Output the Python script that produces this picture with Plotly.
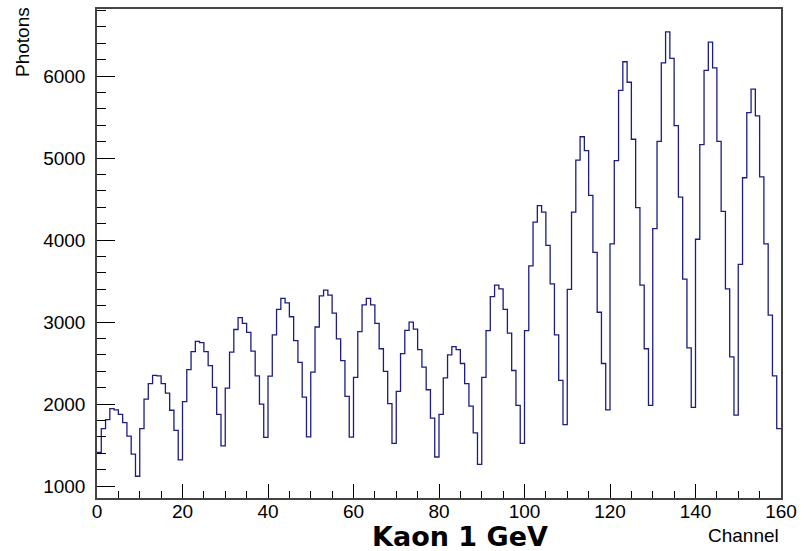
import numpy as np
import plotly.graph_objects as go

# Photons per channel (160 channels)
photons = [
    1410, 1700, 1810, 1945, 1930, 1875, 1775, 1610, 1390, 1120,
    1700, 2060, 2250, 2350, 2345, 2250, 2135, 1925, 1680, 1320,
    2030, 2420, 2640, 2765, 2750, 2640, 2470, 2205, 1875, 1490,
    2195, 2635, 2910, 3055, 2985, 2875, 2645, 2345, 2000, 1595,
    2340, 2845, 3155, 3290, 3235, 3065, 2775, 2510, 2085, 1600,
    2390, 2940, 3320, 3390, 3330, 3110, 2795, 2530, 2095, 1598,
    2325, 2885, 3210, 3290, 3210, 2985, 2675, 2400, 2005, 1520,
    2155, 2615, 2900, 3000, 2915, 2665, 2450, 2175, 1830, 1355,
    1875, 2320, 2600, 2700, 2665, 2495, 2250, 1975, 1650, 1265,
    2325, 2895, 3310, 3450, 3405, 3155, 2865, 2410, 1985, 1520,
    2895, 3685, 4220, 4420, 4340, 3935, 3465, 2845, 2290, 1750,
    3400, 4340, 4975, 5260, 5090, 4545, 3850, 3120, 2495, 1930,
    3955, 4970, 5825, 6175, 5925, 5230, 4395, 3450, 2675, 1985,
    4140, 5205, 6160, 6540, 6215, 5395, 4525, 3525, 2685, 1960,
    4010, 5165, 6070, 6415, 6100, 5205, 4350, 3405, 2575, 1865,
    3705, 4760, 5555, 5840, 5515, 4770, 3955, 3085, 2345, 1700,
]

n_channels = len(photons)
edges = np.arange(n_channels + 1)
# step outline: repeat the last bin so the final step reaches the right edge
step_y = photons + [photons[-1]]

title_text = "Kaon 1 GeV"
x_title = "Channel"
y_title = "Photons"

fig = go.Figure()

fig.add_trace(go.Scatter(
    x=edges,
    y=step_y,
    mode='lines',
    line=dict(color='#1c1c84', width=1.3, shape='hv'),
    showlegend=False,
    hoverinfo='skip'
))

font_family = "Liberation Sans, Arial, Helvetica, sans-serif"

fig.update_layout(
    width=811,
    height=551,
    margin=dict(l=97, r=30, t=7, b=53),
    paper_bgcolor='white',
    plot_bgcolor='white',
    font=dict(family=font_family, size=19, color='black'),
    showlegend=False
)

fig.update_xaxes(
    range=[0, 160],
    tick0=0, dtick=20,
    ticks='inside', ticklen=14, tickwidth=1, tickcolor='black',
    minor=dict(dtick=5, ticks='inside', ticklen=7, tickcolor='black', showgrid=False),
    showgrid=False, zeroline=False,
    showline=True, linecolor='#444', linewidth=1.5, mirror=True,
    ticklabelstandoff=-5
)

fig.update_yaxes(
    range=[855, 6818],
    tick0=0, dtick=1000,
    ticks='inside', ticklen=18, tickwidth=1, tickcolor='black',
    minor=dict(dtick=200, ticks='inside', ticklen=9, tickcolor='black', showgrid=False),
    showgrid=False, zeroline=False,
    showline=True, linecolor='#444', linewidth=1.5, mirror=True,
    ticklabelstandoff=6
)

# Axis titles placed ROOT-style (bottom right / top left)
fig.add_annotation(
    text=x_title, xref='paper', yref='paper', x=1, y=0,
    xanchor='right', yanchor='middle', yshift=-37, showarrow=False,
    font=dict(family=font_family, size=19, color='black')
)
fig.add_annotation(
    text=y_title, xref='paper', yref='paper', x=0, y=1,
    xanchor='center', yanchor='top', xshift=-75, yshift=4, textangle=-90, showarrow=False,
    font=dict(family=font_family, size=19, color='black')
)

# Bold title sitting under the x axis
fig.add_annotation(
    text="<b>" + title_text + "</b>", xref='paper', yref='paper', x=0.531, y=0,
    xanchor='center', yanchor='middle', yshift=-38, showarrow=False,
    font=dict(family="DejaVu Sans, Verdana, sans-serif", size=27, color='black')
)

# drop the default page margin so the figure sits at the window's corner
fig.write_html("out.html", config={'displayModeBar': False},
               post_script="document.body.style.margin='0';")
